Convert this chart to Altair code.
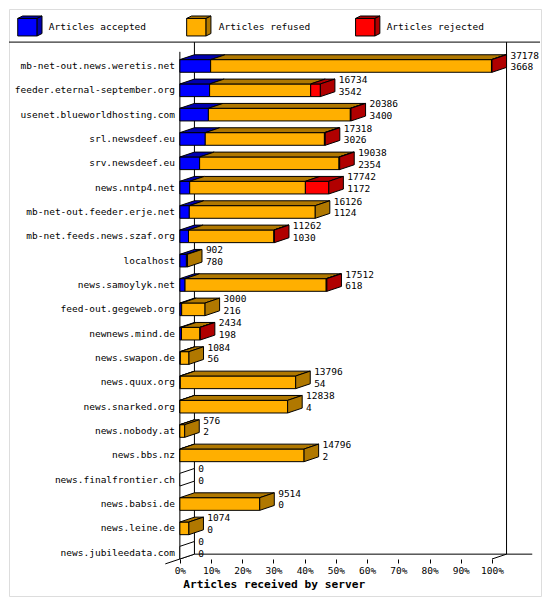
import altair as alt
import pandas as pd

servers = [
    "mb-net-out.news.weretis.net",
    "feeder.eternal-september.org",
    "usenet.blueworldhosting.com",
    "srl.newsdeef.eu",
    "srv.newsdeef.eu",
    "news.nntp4.net",
    "mb-net-out.feeder.erje.net",
    "mb-net.feeds.news.szaf.org",
    "localhost",
    "news.samoylyk.net",
    "feed-out.gegeweb.org",
    "newnews.mind.de",
    "news.swapon.de",
    "news.quux.org",
    "news.snarked.org",
    "news.nobody.at",
    "news.bbs.nz",
    "news.finalfrontier.ch",
    "news.babsi.de",
    "news.leine.de",
    "news.jubileedata.com",
]
offered = [37178, 16734, 20386, 17318, 19038, 17742, 16126, 11262, 902, 17512,
           3000, 2434, 1084, 13796, 12838, 576, 14796, 0, 9514, 1074, 0]
accepted = [3668, 3542, 3400, 3026, 2354, 1172, 1124, 1030, 780, 618,
            216, 198, 56, 54, 4, 2, 2, 0, 0, 0, 0]
refused = [33450, 12040, 16906, 14192, 16604, 13780, 15002, 10172, 122, 16814,
           2784, 2196, 1028, 13742, 12834, 574, 14794, 0, 9514, 1074, 0]
rejected = [60, 1152, 80, 100, 80, 2790, 0, 60, 0, 80,
            0, 40, 0, 0, 0, 0, 0, 0, 0, 0, 0]

series = ["Articles accepted", "Articles refused", "Articles rejected"]
front_colors = ["#0000ff", "#ffaf00", "#ff0000"]
shade_colors = ["#0000b0", "#b07800", "#b00000"]

FONT = "DejaVu Sans Mono"
FS = 9.5
VIEW_W, VIEW_H = 532, 587
SX, SY = VIEW_W / 548, VIEW_H / 603

# reference-pixel geometry -> data units (percent / row)
PX_PCT, PX_ROW = 3.215, 25.0
DX, DY, HALF = 15 / PX_PCT, 5 / PX_ROW, 6.5 / PX_ROW


def px_x(rx):
    return (rx - 177) / PX_PCT


def px_y(ry):
    return (ry - 59.5) / PX_ROW


x_scale = alt.Scale(domain=[0, 100], range=[(177 - 1) * SX, (177 + 100 * PX_PCT - 1) * SX],
                    nice=False, zero=False)
y_scale = alt.Scale(domain=[0, 20], range=[(59.5 - 1) * SY, (559.5 - 1) * SY],
                    nice=False, zero=False)
floor_front = px_y(566)
floor_back = px_y(561)

x_axis = alt.Axis(
    values=list(range(0, 101, 10)), labelExpr="datum.value + '%'",
    domain=False, grid=False, tickSize=4, tickColor="black", tickWidth=1,
    labelFont=FONT, labelFontSize=FS, labelColor="black", labelPadding=2,
    labelFlush=False, labelOverlap=False,
    title="Articles received by server", titleFont=FONT, titleFontSize=11.2,
    titleFontWeight="bold", titleColor="black", titleAlign="left",
    titleBaseline="middle", titleX=(180 - 1) * SX, titleY=26 * SY,
    offset=(565 * SY) - VIEW_H,
)


def X(f):
    return alt.X(f, type="quantitative", scale=x_scale, axis=x_axis)


def Y(f):
    return alt.Y(f, type="quantitative", scale=y_scale, axis=None)


top_max = max(offered)
fronts, tops, sides, nums = [], [], [], []
counts = [accepted, refused, rejected]
for i, name in enumerate(servers):
    start = 0.0
    last = None
    for k in range(3):
        c = counts[k][i]
        if c <= 0:
            continue
        end = start + c / top_max * 100
        fronts.append({"x0": start, "x1": end, "y0": i - HALF, "y1": i + HALF, "fill": front_colors[k]})
        fid = f"t{i}_{k}"
        tops.append({"face": fid, "y": i - HALF, "xa": start, "xb": end, "fill": shade_colors[k]})
        tops.append({"face": fid, "y": i - HALF - DY, "xa": start + DX, "xb": end + DX, "fill": shade_colors[k]})
        last = k
        start = end
    fill = shade_colors[last] if last is not None else "white"
    fid = f"s{i}"
    sides.append({"face": fid, "x": start, "ylo": i + HALF, "yhi": i - HALF, "fill": fill})
    sides.append({"face": fid, "x": start + DX, "ylo": i + HALF - DY, "yhi": i - HALF - DY, "fill": fill})
    tx = start + DX + 4 / PX_PCT
    nums.append({"tx": tx, "y": i - 0.42, "label": str(offered[i])})
    nums.append({"tx": tx, "y": i + 0.06, "label": str(accepted[i])})

# legend cubes, drawn like the bars
legend_left = [10, 184, 358]
legend_text_x = [42, 217, 390]
legend_txt = []
for k, lx in enumerate(legend_left):
    fronts.append({"x0": px_x(lx), "x1": px_x(lx + 20), "y0": px_y(10.7), "y1": px_y(28.7),
                   "fill": front_colors[k]})
    fid = f"lt{k}"
    tops.append({"face": fid, "y": px_y(10.7), "xa": px_x(lx), "xb": px_x(lx + 20), "fill": shade_colors[k]})
    tops.append({"face": fid, "y": px_y(8.2), "xa": px_x(lx + 5), "xb": px_x(lx + 25), "fill": shade_colors[k]})
    fid = f"ls{k}"
    sides.append({"face": fid, "x": px_x(lx + 20), "ylo": px_y(28.7), "yhi": px_y(10.7), "fill": shade_colors[k]})
    sides.append({"face": fid, "x": px_x(lx + 25), "ylo": px_y(26.2), "yhi": px_y(8.2), "fill": shade_colors[k]})
    legend_txt.append({"tx": px_x(legend_text_x[k]), "y": px_y(20), "label": series[k]})

frame = pd.DataFrame([
    {"x0": px_x(1), "y0": px_y(35), "x1": px_x(548), "y1": px_y(35)},
    {"x0": DX, "y0": px_y(35), "x1": DX, "y1": floor_back},
    {"x0": 0, "y0": px_y(45), "x1": 0, "y1": floor_front},
    {"x0": 100 + DX, "y0": px_y(35), "x1": 100 + DX, "y1": floor_back},
    {"x0": DX, "y0": floor_back, "x1": px_x(540), "y1": floor_back},
    {"x0": -DX, "y0": floor_front + DY, "x1": DX, "y1": floor_back},
    {"x0": 100, "y0": floor_front, "x1": 100 + DX, "y1": floor_back},
])

labels = pd.DataFrame({"tx": [px_x(172)] * len(servers), "y": list(range(len(servers))), "label": servers})

frame_layer = alt.Chart(frame).mark_rule(color="black", strokeWidth=1).encode(
    x=X("x0"), x2="x1", y=Y("y0"), y2="y1"
)
front_layer = alt.Chart(pd.DataFrame(fronts)).mark_rect(stroke="black", strokeWidth=1).encode(
    x=X("x0"), x2="x1", y=Y("y0"), y2="y1", fill=alt.Fill("fill:N", scale=None)
)
top_layer = alt.Chart(pd.DataFrame(tops)).mark_area(
    orient="horizontal", stroke="black", strokeWidth=1, opacity=1
).encode(
    y=Y("y"), x=X("xa"), x2="xb", detail="face:N", fill=alt.Fill("fill:N", scale=None)
)
side_layer = alt.Chart(pd.DataFrame(sides)).mark_area(
    orient="vertical", stroke="black", strokeWidth=1, opacity=1
).encode(
    x=X("x"), y=Y("ylo"), y2="yhi", detail="face:N", fill=alt.Fill("fill:N", scale=None)
)
label_layer = alt.Chart(labels).mark_text(
    align="right", baseline="middle", font=FONT, fontSize=FS, color="black"
).encode(x=X("tx"), y=Y("y"), text="label:N")
num_layer = alt.Chart(pd.DataFrame(nums)).mark_text(
    align="left", baseline="middle", font=FONT, fontSize=FS, color="black"
).encode(x=X("tx"), y=Y("y"), text="label:N")
legend_layer = alt.Chart(pd.DataFrame(legend_txt)).mark_text(
    align="left", baseline="middle", font=FONT, fontSize=FS, color="black"
).encode(x=X("tx"), y=Y("y"), text="label:N")

chart = (
    alt.layer(frame_layer, front_layer, top_layer, side_layer, label_layer, num_layer, legend_layer)
    .properties(width=VIEW_W, height=VIEW_H, padding=1, autosize=alt.AutoSizeParams(type="none"))
    .configure_view(stroke="black", strokeWidth=1)
    .configure(background="white")
)

chart.save("out.html", embed_options={"renderer": "svg", "actions": False})
